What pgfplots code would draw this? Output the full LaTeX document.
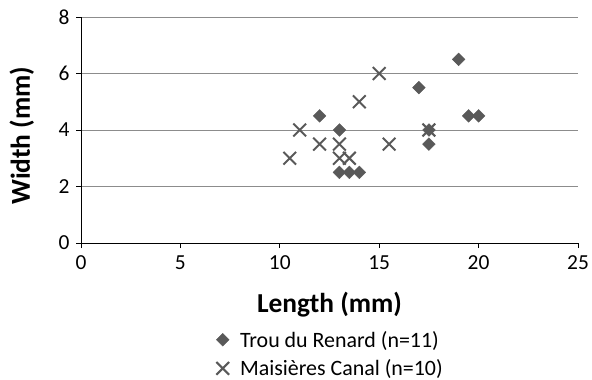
\documentclass[border=0pt]{standalone}
\usepackage{pgfplots}
\pgfplotsset{compat=1.18}
\usepackage{fontspec}
\setmainfont{Carlito}
\definecolor{mk}{HTML}{595959}
\definecolor{gridc}{HTML}{8C8C8C}
\begin{document}
\begin{tikzpicture}
\useasboundingbox (0,0) rectangle (592bp,380bp);
\begin{axis}[
  at={(81bp,137bp)}, anchor=south west,
  scale only axis, width=497bp, height=226bp,
  xmin=0, xmax=25, ymin=0, ymax=8,
  xtick={0,5,...,25}, ytick={0,2,...,8},
  axis x line*=bottom, axis y line*=left,
  axis line style={black, line width=1bp, -},
  ymajorgrids, grid style={gridc, line width=1bp},
  tick align=outside, major tick length=5bp,
  tick style={black, line width=1bp},
  /pgf/number format/assume math mode=true,
  tick label style={font=\fontsize{21.5}{25}\selectfont},
  xticklabel style={yshift=-4bp},
  yticklabel style={xshift=-3bp},
  xlabel={\textbf{Length (mm)}},
  ylabel={\textbf{Width (mm)}},
  label style={font=\fontsize{27.5}{32}\selectfont},
  xlabel style={at={(rel axis cs:0.5,-0.275)}, anchor=center},
  ylabel style={at={(rel axis cs:-0.119,0.475)}, anchor=center, rotate=0},
  legend style={at={(rel axis cs:0.272,-0.38)}, anchor=north west, draw=none, fill=none,
    font=\fontsize{22}{25}\selectfont, row sep=7bp, column sep=9bp, inner sep=0pt},
  legend cell align=left,
  clip=false,
]
\addplot[only marks, mark=square*, mark size=4.5bp, mark options={rotate=45, fill=mk, draw=mk}]
  coordinates {(12,4.5) (13,4) (13,2.5) (13.5,2.5) (14,2.5) (17,5.5) (17.5,4) (17.5,3.5) (19,6.5) (19.5,4.5) (20,4.5)};
\addlegendentry{Trou du Renard (n=11)}
\addplot[only marks, mark=x, mark size=9bp, mark options={draw=mk, line width=2bp}]
  coordinates {(10.5,3) (11,4) (12,3.5) (13,3.5) (13,3) (13.5,3) (14,5) (15,6) (15.5,3.5) (17.5,4)};
\addlegendentry{Maisières Canal (n=10)}
\end{axis}
\end{tikzpicture}
\end{document}
